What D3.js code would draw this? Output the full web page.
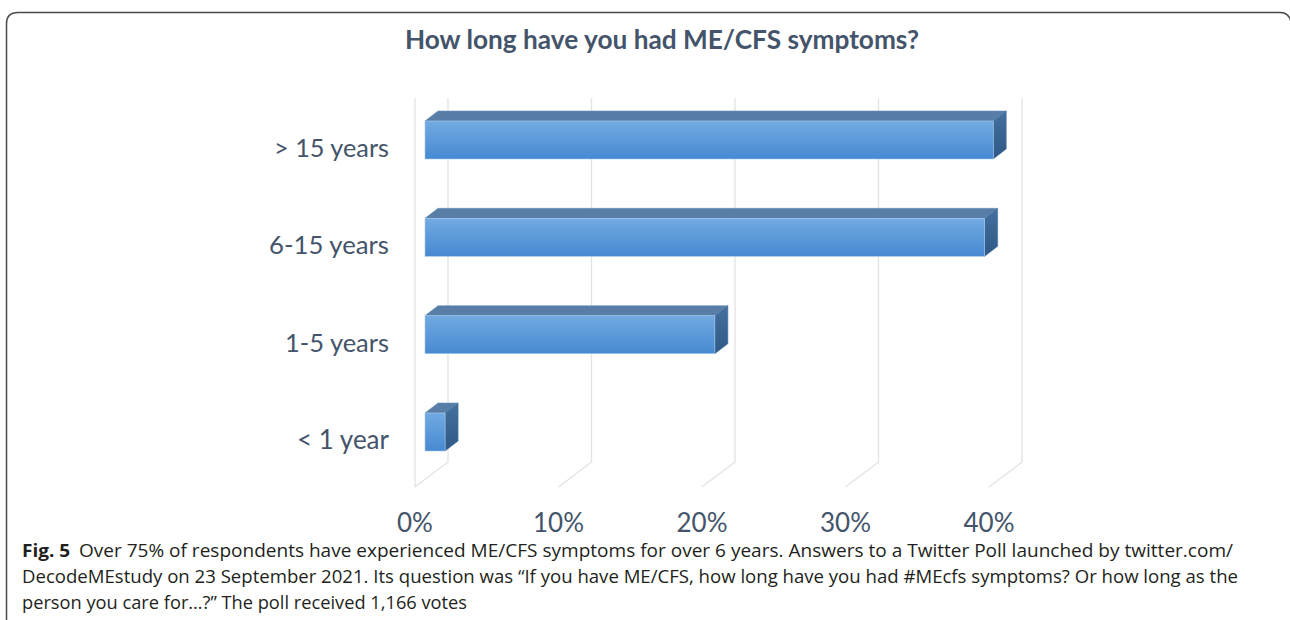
<!DOCTYPE html>
<html>
<head>
<meta charset="utf-8">
<script src="https://cdn.jsdelivr.net/npm/d3@7/dist/d3.min.js"></script>
<style>
  html, body { margin: 0; padding: 0; background: #ffffff; }
  svg { display: block; }
</style>
</head>
<body>
<svg id="chart" width="1290" height="620"></svg>
<script>
// ---- data ----
const categories = ["> 15 years", "6-15 years", "1-5 years", "< 1 year"];
const values = [39.6, 39.0, 20.2, 1.4];           // percent of votes
const tickValues = [0, 10, 20, 30, 40];
const tickLabels = ["0%", "10%", "20%", "30%", "40%"];
const titleText = "How long have you had ME/CFS symptoms?";
const captionBold = "Fig. 5";
const captionLines = [
  "Over 75% of respondents have experienced ME/CFS symptoms for over 6 years. Answers to a Twitter Poll launched by twitter.com/",
  "DecodeMEstudy on 23 September 2021. Its question was \u201CIf you have ME/CFS, how long have you had #MEcfs symptoms? Or how long as the",
  "person you care for\u2026?\u201D The poll received 1,166 votes"
];

const svg = d3.select("#chart");
const W = 1290, H = 620;

// frame (rounded border of the figure panel)
svg.append("path")
  .attr("d", "M6.5,640 L6.5,24 Q6.5,12.5 18,12.5 L1280,12.5 Q1289,12.5 1291,22")
  .attr("fill", "none").attr("stroke", "#4a4a4a").attr("stroke-width", 1.5);

// scales
const x = d3.scaleLinear().domain([0, 40]).range([415, 989]);
const y = d3.scalePoint().domain(categories).range([140, 432]);

// 3D geometry
const depthX = 33, depthY = -25;      // floor depth
const floorFront = 487, floorBack = floorFront + depthY;
const wallTop = 98;
const barH = 38;
const barOff = 10;                    // bar front face offset into depth
const bdx = 13, bdy = -10;            // bar depth

const defs = svg.append("defs");
const gFront = defs.append("linearGradient").attr("id", "gFront").attr("x1", 0).attr("y1", 0).attr("x2", 0).attr("y2", 1);
gFront.append("stop").attr("offset", "0%").attr("stop-color", "#72aae2");
gFront.append("stop").attr("offset", "100%").attr("stop-color", "#4689d1");
const gSide = defs.append("linearGradient").attr("id", "gSide").attr("x1", 0).attr("y1", 0).attr("x2", 0).attr("y2", 1);
gSide.append("stop").attr("offset", "0%").attr("stop-color", "#44709f");
gSide.append("stop").attr("offset", "100%").attr("stop-color", "#2f5885");

// gridlines (back wall) + floor diagonals
const grid = svg.append("g").attr("stroke", "#e3e3e3").attr("stroke-width", 1.3).attr("fill", "none");
tickValues.forEach(v => {
  const xb = x(v) + depthX;
  grid.append("path").attr("d", `M${xb},${wallTop} L${xb},${floorBack} L${x(v)},${floorFront}`);
});
// left wall front edge
grid.append("line").attr("x1", x(0)).attr("x2", x(0)).attr("y1", wallTop).attr("y2", floorFront);

// bars
const bars = svg.append("g").selectAll("g").data(categories).join("g");
bars.each(function(c, i) {
  const g = d3.select(this);
  const x0 = x(0) + barOff, x1 = x(values[i]) + barOff;
  const yt = y(c) - barH / 2, yb = yt + barH;
  // top face
  g.append("path")
    .attr("d", `M${x0},${yt} L${x0 + bdx},${yt + bdy} L${x1 + bdx},${yt + bdy} L${x1},${yt} Z`)
    .attr("fill", "#587ea8").attr("stroke", "#6a90b8").attr("stroke-width", 0.6);
  // side face
  g.append("path")
    .attr("d", `M${x1},${yt} L${x1 + bdx},${yt + bdy} L${x1 + bdx},${yb + bdy} L${x1},${yb} Z`)
    .attr("fill", "url(#gSide)").attr("stroke", "#4a76a4").attr("stroke-width", 0.6);
  // front face
  g.append("rect")
    .attr("x", x0).attr("y", yt).attr("width", x1 - x0).attr("height", barH)
    .attr("fill", "url(#gFront)").attr("stroke", "#a9c8ea").attr("stroke-width", 0.6);
});

// helper: fit font size to target width
function fit(sel, target) {
  const n = sel.node();
  const fs = parseFloat(sel.attr("font-size"));
  const w = n.getComputedTextLength();
  sel.attr("font-size", (fs * target / w).toFixed(2));
}

const font = "Lato, 'Open Sans', sans-serif";
const textCol = "#44546a";

// title
const title = svg.append("text").attr("x", 662).attr("y", 49)
  .attr("text-anchor", "middle").attr("font-family", font).attr("font-weight", "bold")
  .attr("font-size", 26).attr("fill", textCol).text(titleText);
fit(title, 514);

// category labels
const catWidths = [115, 120, 104, 92];
svg.append("g").selectAll("text").data(categories).join("text")
  .attr("x", 389).attr("y", c => y(c) + 17)
  .attr("text-anchor", "end").attr("font-family", font)
  .attr("font-size", 24).attr("fill", textCol).text(c => c)
  .each(function(c, i) { fit(d3.select(this), catWidths[i]); });

// x tick labels
svg.append("g").selectAll("text").data(tickValues).join("text")
  .attr("x", v => x(v)).attr("y", 532)
  .attr("text-anchor", "middle").attr("font-family", font)
  .attr("font-size", 26).attr("fill", textCol)
  .text((v, i) => tickLabels[i]);

// caption
const capFont = "'Open Sans', 'Noto Sans', sans-serif";
const capY = [557, 583, 609];
const capEnds = [1233, 1238, 467];
captionLines.forEach((line, i) => {
  const t = svg.append("text").attr("x", 22).attr("y", capY[i])
    .attr("font-family", capFont).attr("font-size", 17.5).attr("fill", "#231f20");
  if (i === 0) {
    t.append("tspan").attr("font-weight", "bold").text(captionBold);
    t.append("tspan").attr("dx", 8).text(line);
  } else {
    t.text(line);
  }
  t.attr("textLength", capEnds[i] - 22).attr("lengthAdjust", "spacingAndGlyphs");
});
</script>
</body>
</html>
